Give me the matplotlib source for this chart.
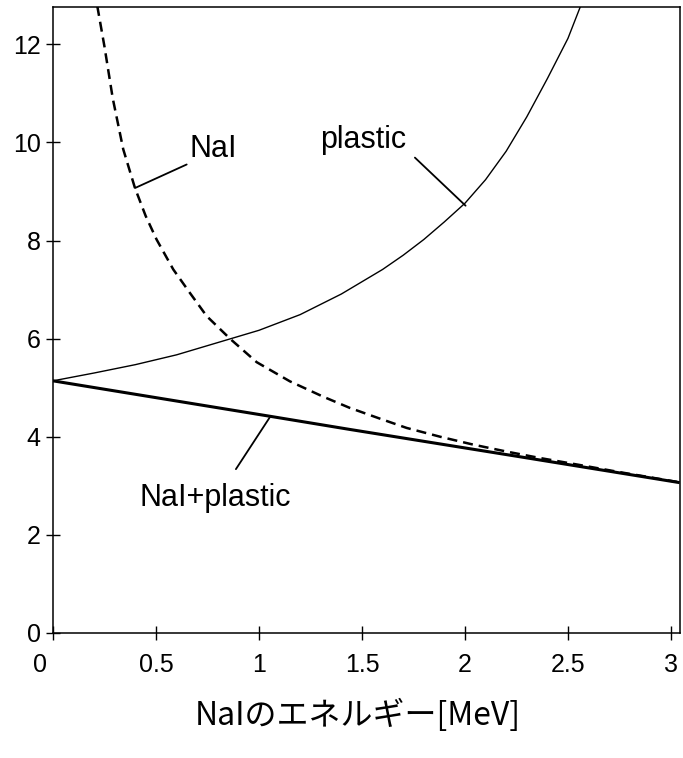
import matplotlib
matplotlib.use("Agg")
import matplotlib.pyplot as plt
import matplotlib.transforms as mtransforms

plt.rcParams['font.family'] = ['Liberation Sans', 'Noto Sans CJK JP', 'DejaVu Sans']

# ---- data ----
nai_x = [0.215, 0.25, 0.29, 0.341, 0.398, 0.45, 0.503, 0.584, 0.665, 0.746, 0.859, 0.989,
         1.15, 1.31, 1.44, 1.58, 1.717, 1.88, 2.04, 2.20, 2.36, 2.55, 2.75, 3.03]
nai_y = [12.78, 11.95, 10.90, 9.86, 9.07, 8.50, 8.02, 7.41, 6.93, 6.46, 6.00, 5.52,
         5.13, 4.82, 4.59, 4.38, 4.18, 4.00, 3.84, 3.70, 3.57, 3.43, 3.28, 3.08]

plastic_x = [0.0, 0.2, 0.4, 0.6, 0.8, 1.0, 1.2, 1.4, 1.6, 1.7, 1.8, 1.9, 2.0,
             2.1, 2.2, 2.3, 2.4, 2.5, 2.58]
plastic_y = [5.14, 5.30, 5.47, 5.67, 5.92, 6.17, 6.49, 6.91, 7.41, 7.70, 8.02, 8.38, 8.76,
             9.24, 9.82, 10.52, 11.30, 12.12, 12.98]

sum_x = [0.0, 1.05, 1.44, 2.27, 3.035]
sum_y = [5.14, 4.42, 4.15, 3.59, 3.07]

x_ticks = [0, 0.5, 1, 1.5, 2, 2.5, 3]
x_tick_labels = ['0', '0.5', '1', '1.5', '2', '2.5', '3']
y_ticks = [0, 2, 4, 6, 8, 10, 12]
y_tick_labels = ['0', '2', '4', '6', '8', '10', '12']

xlabel = 'NaIのエネルギー[MeV]'

# annotation texts and leader lines (text anchor, leader start, leader end on curve)
labels = ['NaI', 'plastic', 'NaI+plastic']
label_pos = [(0.665, 9.86), (1.296, 10.04), (0.422, 2.755)]
leader_from = [(0.649, 9.55), (1.757, 9.69), (0.888, 3.34)]
leader_to = [(0.398, 9.07), (2.003, 8.71), (1.053, 4.40)]

# ---- figure ----
fig = plt.figure(figsize=(6.83, 7.58), dpi=100)
ax = fig.add_axes([53/683, 1 - 633/758, (680-53)/683, (633-7)/758])

ax.plot(nai_x, nai_y, color='black', lw=1.8, dashes=(4, 2.4), solid_capstyle='butt')
ax.plot(plastic_x, plastic_y, color='black', lw=1.0)
ax.plot(sum_x, sum_y, color='black', lw=2.2)

ax.set_xlim(0, 3.044)
ax.set_ylim(0, 12.76)

ax.set_xticks(x_ticks)
ax.set_xticklabels(x_tick_labels)
ax.set_yticks(y_ticks)
ax.set_yticklabels(y_tick_labels)

ax.tick_params(axis='both', direction='inout', length=9.5, width=1.0, labelsize=18, color='black')
ax.tick_params(axis='x', pad=10)
ax.tick_params(axis='y', pad=4)

# nudge the x-axis "0" label to the left, as in the reference
xt = ax.get_xticklabels()
xt[0].set_transform(xt[0].get_transform() + mtransforms.ScaledTranslation(-13/100, 0, fig.dpi_scale_trans))

for s in ax.spines.values():
    s.set_linewidth(1.1)
    s.set_color('black')

for txt, pos, p0, p1 in zip(labels, label_pos, leader_from, leader_to):
    ax.text(pos[0], pos[1], txt, fontsize=22, ha='left', va='center', color='black')
    ax.annotate('', xy=p1, xytext=p0,
                arrowprops=dict(arrowstyle='-', lw=1.3, color='black', shrinkA=0, shrinkB=0))

fig.text(358/683, 1 - 715/758, xlabel, fontsize=23, ha='center', va='center',
         family=['Noto Sans CJK JP', 'DejaVu Sans'])

fig.savefig('out.png', dpi=100)
